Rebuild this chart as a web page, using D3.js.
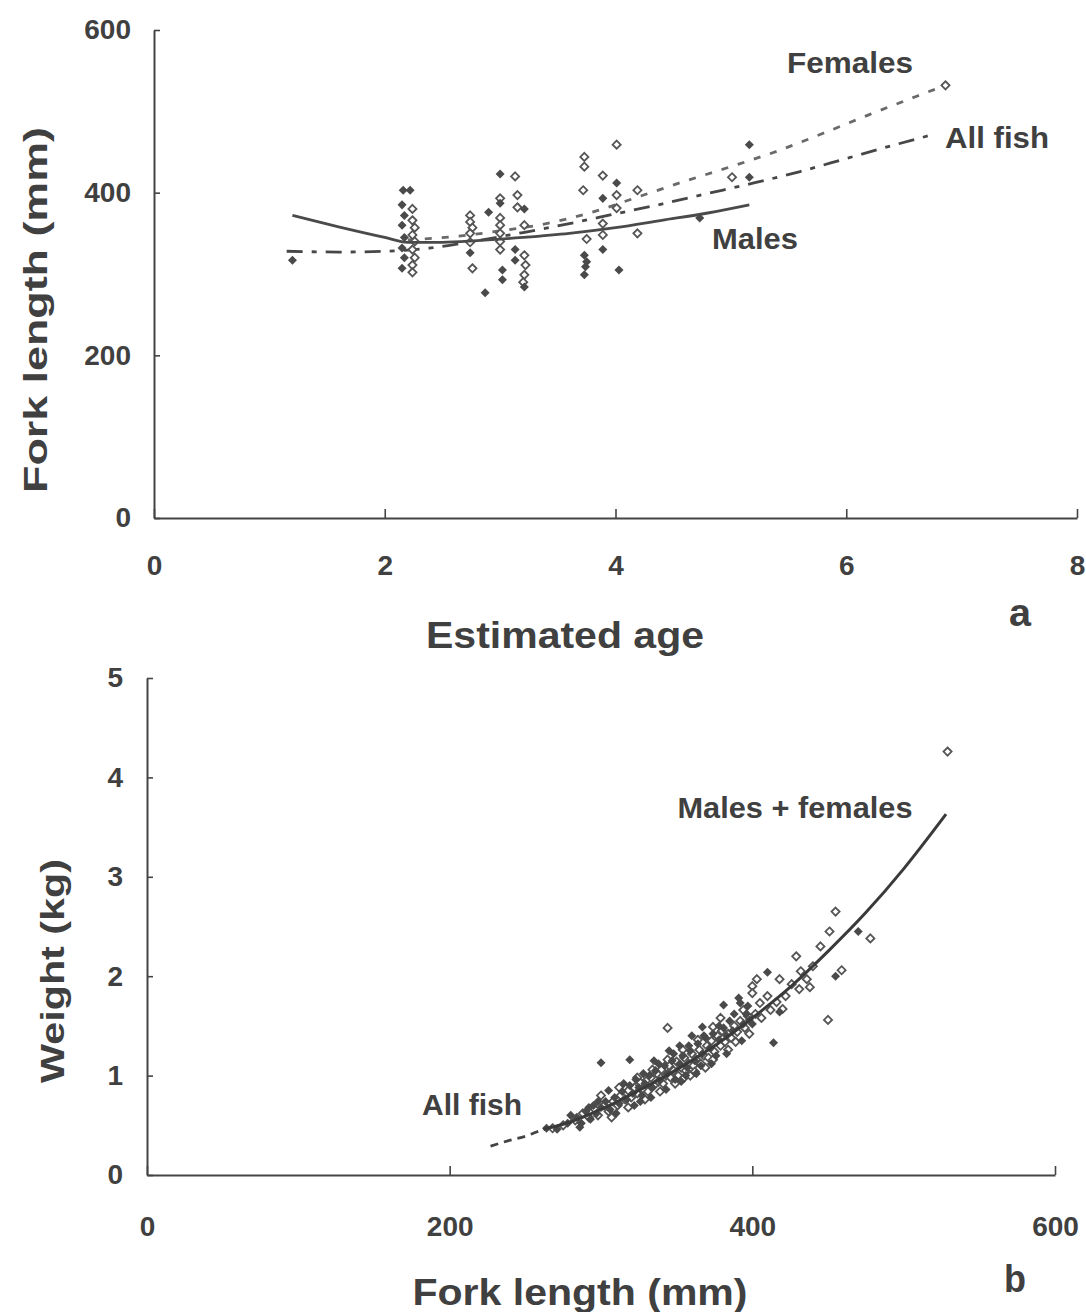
<!DOCTYPE html>
<html><head><meta charset="utf-8">
<script src="https://cdn.jsdelivr.net/npm/d3@7"></script>
<style>
body{margin:0;background:#fff}
svg{display:block}
text{font-family:"Liberation Sans",Arial,Helvetica,sans-serif;font-weight:bold;fill:#404040}
</style>
</head><body>
<svg id="c" width="1086" height="1312"></svg>
<script>
// ---------- Panel a data ----------
const ageTicks = [0, 2, 4, 6, 8];
const flTicksA = [0, 200, 400, 600];
// filled diamonds (males): [age, fork length]
const malesA = [[1.2,317],[2.16,403],[2.22,403],[2.15,385],[2.17,372],[2.15,360],[2.17,345],[2.15,332],[2.17,320],[2.15,307],
  [2.74,326],[2.9,376],[2.87,277],[3.0,423],[3.0,387],[3.02,305],[3.02,293],
  [3.21,380],[3.13,330],[3.13,317],[3.21,284],[3.73,323],[3.75,315],[3.74,309],[3.73,299],
  [3.89,393],[3.89,330],[4.01,412],[4.03,305],[4.73,369],[5.16,459],[5.16,419]];
// open diamonds (females)
const femalesA = [[2.24,380],[2.24,366],[2.26,357],[2.24,348],[2.26,340],[2.24,330],[2.26,320],[2.24,311],[2.24,302],
  [2.74,372],[2.74,364],[2.76,357],[2.74,350],[2.74,339],[2.76,307],
  [3.0,393],[3.0,369],[3.0,360],[3.0,350],[3.0,340],[3.0,330],
  [3.13,420],[3.15,397],[3.15,382],[3.21,360],[3.21,323],[3.22,311],[3.21,299],[3.2,290],
  [3.73,444],[3.73,432],[3.72,403],[3.75,343],[3.89,421],[3.89,362],[3.89,348],
  [4.01,459],[4.01,397],[4.01,381],[4.19,403],[4.19,350],[5.01,419],[6.86,532]];
// fitted curves
const maleCurveA = [[1.2,372],[1.6,358],[2.0,345],[2.2,339],[2.5,339],[2.8,341],[3.2,345],[3.6,350],[4.0,357],[4.4,366],[4.8,375],[5.16,385]];
const femaleCurveA = [[2.2,342],[2.6,346],[3.0,353],[3.4,362],[3.8,376],[4.2,395],[4.6,414],[5.0,432],[5.4,451],[5.8,473],[6.2,496],[6.6,518],[6.86,532]];
const allCurveA = [[1.15,328],[1.6,327],[2.0,328],[2.4,332],[2.8,341],[3.2,351],[3.6,362],[4.0,374],[4.4,386],[4.8,399],[5.2,412],[5.6,426],[6.0,442],[6.4,458],[6.74,471]];

// ---------- Panel b data ----------
const flTicksB = [0, 200, 400, 600];
const wTicks = [0, 1, 2, 3, 4, 5];
const malesB = [[264,0.47],[271,0.46],[278,0.52],[284,0.58],[287,0.52],[290,0.64],[293,0.56],[295,0.70],[297,0.62],[300,1.13],[300,0.68],
  [303,0.74],[306,0.66],[309,0.78],[312,0.72],[314,0.84],[317,0.76],[319,1.16],[319,0.90],[321,0.82],[323,0.96],[325,0.88],[327,0.80],
  [329,0.92],[332,1.00],[334,0.88],[336,1.05],[339,0.95],[342,1.10],[344,1.02],[347,1.15],[349,0.96],[352,1.12],[354,1.20],[357,1.08],
  [359,1.25],[362,1.15],[364,1.32],[367,1.49],[367,1.22],[369,1.38],[372,1.28],[374,1.42],[376,1.20],[378,1.36],[381,1.71],[381,1.48],
  [383,1.40],[385,1.55],[387,1.45],[391,1.78],[392,1.73],[394,1.52],[396,1.62],[398,1.56],[400,1.52],[410,2.04],[414,1.33],[418,1.64],
  [455,2.00],[470,2.45],
  [305,0.85],[310,0.62],[315,0.92],[322,0.70],[328,1.02],[333,0.78],[338,1.12],[343,0.86],[348,1.22],[353,0.94],[358,1.30],[363,1.02],
  [368,1.40],[373,1.12],[378,1.50],[383,1.22],[388,1.62],[393,1.35],[397,1.70],[280,0.60],[286,0.48],[292,0.68],[298,0.74],[360,1.40],
  [352,1.30],[345,1.25],[335,1.15],[326,0.74],[356,1.00],[366,1.10]];
const femalesB = [[268,0.47],[275,0.50],[283,0.55],[288,0.62],[292,0.58],[296,0.66],[298,0.60],[302,0.70],[305,0.64],[308,0.74],[311,0.70],
  [313,0.80],[316,0.76],[318,0.85],[320,0.78],[322,0.88],[324,0.82],[326,0.93],[328,0.86],[330,0.95],[331,0.84],[333,0.98],[335,0.90],
  [337,1.02],[338,0.94],[340,1.06],[341,0.92],[343,1.00],[345,1.10],[346,0.98],[348,1.05],[350,1.14],[351,1.00],[353,1.08],[355,1.18],
  [356,1.05],[358,1.12],[360,1.22],[361,1.10],[363,1.16],[365,1.26],[366,1.12],[368,1.20],[370,1.30],[371,1.18],[373,1.35],[375,1.24],
  [377,1.40],[379,1.30],[380,1.45],[382,1.34],[384,1.42],[386,1.38],[388,1.50],[390,1.44],[392,1.55],[395,1.48],[397,1.60],[400,1.90],
  [400,1.83],[403,1.97],[405,1.73],[418,1.97],[420,1.67],[429,2.20],[431,1.87],[436,1.97],[438,1.89],[450,1.56],[451,2.45],[455,2.65],
  [459,2.06],[478,2.38],[374,1.49],[344,1.48],[355,0.98],[362,1.04],[529,4.26],
  [300,0.80],[307,0.58],[312,0.88],[318,0.68],[324,0.98],[329,0.76],[334,1.06],[339,0.84],[344,1.16],[349,0.92],[354,1.26],[359,1.00],
  [364,1.36],[369,1.08],[374,1.16],[379,1.58],[384,1.26],[389,1.34],[394,1.66],[398,1.42],[402,1.62],[406,1.58],[410,1.80],[412,1.66],
  [416,1.74],[422,1.80],[426,1.92],[432,2.05],[440,2.10],[445,2.30]];
const curveMF = [[262,0.46],[275,0.51],[300,0.66],[325,0.85],[350,1.06],[375,1.30],[400,1.58],[425,1.89],[450,2.25],[475,2.64],[500,3.08],[528,3.63]];
const curveAllB = [[227,0.29],[240,0.35],[250,0.39],[262,0.46],[272,0.50]];

const svg = d3.select("#c");
const INK = "#444";

function styleAxis(g, fs){
  g.select(".domain").attr("stroke", INK).attr("stroke-width", 2);
  g.selectAll(".tick line").attr("stroke", INK).attr("stroke-width", 1.6);
  g.selectAll(".tick text").attr("font-size", fs).attr("fill", "#404040")
    .attr("font-family", '"Liberation Sans",Arial,sans-serif').attr("font-weight", "bold");
}
function label(x, y, txt, fs, len, rot){
  const t = svg.append("text").attr("font-size", fs).attr("text-anchor", "middle").text(txt)
    .attr("textLength", len).attr("lengthAdjust", "spacingAndGlyphs");
  if (rot) t.attr("transform", `translate(${x},${y}) rotate(-90)`);
  else t.attr("x", x).attr("y", y);
  return t;
}
const diamond = s => d3.symbol(d3.symbolDiamond2, s)();
const FILLED = 52, OPEN = 42;

// ---------- Panel a ----------
const xA = d3.scaleLinear().domain([0, 8]).range([154, 1077]);
const yA = d3.scaleLinear().domain([0, 600]).range([518, 30]);

svg.append("g").attr("transform", "translate(0,518)")
  .call(d3.axisBottom(xA).tickValues(ageTicks).tickFormat(d3.format("d")).tickSizeInner(-9).tickSizeOuter(0).tickPadding(37))
  .call(g => styleAxis(g, 28));
svg.append("g").attr("transform", "translate(154,0)")
  .call(d3.axisLeft(yA).tickValues(flTicksA).tickFormat(d3.format("d")).tickSizeInner(-6).tickSizeOuter(0).tickPadding(23))
  .call(g => styleAxis(g, 28));

const lineA = d3.line().x(d => xA(d[0])).y(d => yA(d[1])).curve(d3.curveMonotoneX);
svg.append("path").datum(allCurveA).attr("d", lineA).attr("fill", "none").attr("stroke", "#474747")
  .attr("stroke-width", 2.8).attr("stroke-dasharray", "16,9,5,9");
svg.append("path").datum(femaleCurveA).attr("d", lineA).attr("fill", "none").attr("stroke", "#6a6a6a")
  .attr("stroke-width", 2.8).attr("stroke-dasharray", "7,10");

const gA = svg.append("g");
gA.selectAll(".fA").data(femalesA).join("path").attr("class", "fA")
  .attr("transform", d => `translate(${xA(d[0])},${yA(d[1])})`).attr("d", diamond(OPEN))
  .attr("fill", "#fff").attr("stroke", "#555").attr("stroke-width", 1.8);
gA.selectAll(".mA").data(malesA).join("path").attr("class", "mA")
  .attr("transform", d => `translate(${xA(d[0])},${yA(d[1])})`).attr("d", diamond(FILLED)).attr("fill", "#4a4a4a");

svg.append("path").datum(maleCurveA).attr("d", lineA).attr("fill", "none").attr("stroke", "#4a4a4a").attr("stroke-width", 2.8);

label(850, 73, "Females", 30, 126);
label(997, 148, "All fish", 30, 104);
label(755, 249, "Males", 30, 86);
label(565, 648, "Estimated age", 36, 278);
label(1020, 626, "a", 38, 22);
label(47, 310, "Fork length (mm)", 34, 366, true);

// ---------- Panel b ----------
const xB = d3.scaleLinear().domain([0, 600]).range([147, 1055]);
const yB = d3.scaleLinear().domain([0, 5]).range([1175, 678]);

svg.append("g").attr("transform", "translate(0,1175)")
  .call(d3.axisBottom(xB).tickValues(flTicksB).tickFormat(d3.format("d")).tickSizeInner(-9).tickSizeOuter(0).tickPadding(41))
  .call(g => styleAxis(g, 28));
svg.append("g").attr("transform", "translate(147,0)")
  .call(d3.axisLeft(yB).tickValues(wTicks).tickFormat(d3.format("d")).tickSizeInner(-6).tickSizeOuter(0).tickPadding(24))
  .call(g => styleAxis(g, 28));

const lineB = d3.line().x(d => xB(d[0])).y(d => yB(d[1])).curve(d3.curveMonotoneX);
svg.append("path").datum(curveAllB).attr("d", lineB).attr("fill", "none").attr("stroke", "#444")
  .attr("stroke-width", 2.8).attr("stroke-dasharray", "8,6");

const gB = svg.append("g");
gB.selectAll(".fB").data(femalesB).join("path").attr("class", "fB")
  .attr("transform", d => `translate(${xB(d[0])},${yB(d[1])})`).attr("d", diamond(OPEN))
  .attr("fill", "#fff").attr("stroke", "#555").attr("stroke-width", 1.8);
gB.selectAll(".mB").data(malesB).join("path").attr("class", "mB")
  .attr("transform", d => `translate(${xB(d[0])},${yB(d[1])})`).attr("d", diamond(FILLED)).attr("fill", "#4a4a4a");

svg.append("path").datum(curveMF).attr("d", lineB).attr("fill", "none").attr("stroke", "#3a3a3a").attr("stroke-width", 3);

label(795, 818, "Males + females", 30, 235);
label(472, 1115, "All fish", 30, 100);
label(580, 1305, "Fork length (mm)", 36, 335);
label(1015, 1292, "b", 38, 22);
label(64, 971, "Weight (kg)", 34, 224, true);
</script>
</body></html>
